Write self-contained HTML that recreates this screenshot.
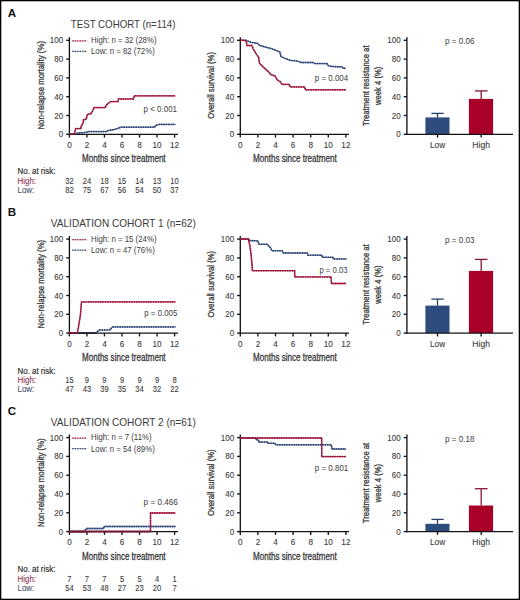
<!DOCTYPE html>
<html><head><meta charset="utf-8"><style>
html,body{margin:0;padding:0;background:#fff;}
body{width:520px;height:600px;overflow:hidden;}
svg{display:block;font-family:"Liberation Sans",sans-serif;}
</style></head><body>
<svg width="520" height="600" viewBox="0 0 520 600">
<rect x="0" y="0" width="520" height="600" fill="#fff"/>
<g>
<text x="7.80" y="17.00" font-size="11.6" fill="#111" textLength="8.38" lengthAdjust="spacingAndGlyphs" font-weight="bold" >A</text>
<text x="70.80" y="28.00" font-size="10.5" fill="#3a3a3a" textLength="104.70" lengthAdjust="spacingAndGlyphs" >TEST COHORT (n=114)</text>
<line x1="69.40" y1="37.20" x2="69.40" y2="134.98" stroke="#141414" stroke-width="1.35" />
<line x1="66.20" y1="134.30" x2="69.40" y2="134.30" stroke="#141414" stroke-width="1.35" />
<text x="58.75" y="137.30" font-size="8.6" fill="#3c3c3c" textLength="4.45" lengthAdjust="spacingAndGlyphs"  stroke="#3c3c3c" stroke-width="0.1">0</text>
<line x1="66.20" y1="115.50" x2="69.40" y2="115.50" stroke="#141414" stroke-width="1.35" />
<text x="54.30" y="118.50" font-size="8.6" fill="#3c3c3c" textLength="8.90" lengthAdjust="spacingAndGlyphs"  stroke="#3c3c3c" stroke-width="0.1">20</text>
<line x1="66.20" y1="96.70" x2="69.40" y2="96.70" stroke="#141414" stroke-width="1.35" />
<text x="54.30" y="99.70" font-size="8.6" fill="#3c3c3c" textLength="8.90" lengthAdjust="spacingAndGlyphs"  stroke="#3c3c3c" stroke-width="0.1">40</text>
<line x1="66.20" y1="77.90" x2="69.40" y2="77.90" stroke="#141414" stroke-width="1.35" />
<text x="54.30" y="80.90" font-size="8.6" fill="#3c3c3c" textLength="8.90" lengthAdjust="spacingAndGlyphs"  stroke="#3c3c3c" stroke-width="0.1">60</text>
<line x1="66.20" y1="59.10" x2="69.40" y2="59.10" stroke="#141414" stroke-width="1.35" />
<text x="54.30" y="62.10" font-size="8.6" fill="#3c3c3c" textLength="8.90" lengthAdjust="spacingAndGlyphs"  stroke="#3c3c3c" stroke-width="0.1">80</text>
<line x1="66.20" y1="40.30" x2="69.40" y2="40.30" stroke="#141414" stroke-width="1.35" />
<text x="49.86" y="43.30" font-size="8.6" fill="#3c3c3c" textLength="13.34" lengthAdjust="spacingAndGlyphs"  stroke="#3c3c3c" stroke-width="0.1">100</text>
<line x1="68.73" y1="134.30" x2="178.00" y2="134.30" stroke="#141414" stroke-width="1.35" />
<line x1="69.40" y1="134.30" x2="69.40" y2="137.60" stroke="#141414" stroke-width="1.35" />
<text x="67.13" y="147.70" font-size="8.6" fill="#3c3c3c" textLength="4.54" lengthAdjust="spacingAndGlyphs"  stroke="#3c3c3c" stroke-width="0.1">0</text>
<line x1="86.93" y1="134.30" x2="86.93" y2="137.60" stroke="#141414" stroke-width="1.35" />
<text x="84.66" y="147.70" font-size="8.6" fill="#3c3c3c" textLength="4.54" lengthAdjust="spacingAndGlyphs"  stroke="#3c3c3c" stroke-width="0.1">2</text>
<line x1="104.46" y1="134.30" x2="104.46" y2="137.60" stroke="#141414" stroke-width="1.35" />
<text x="102.19" y="147.70" font-size="8.6" fill="#3c3c3c" textLength="4.54" lengthAdjust="spacingAndGlyphs"  stroke="#3c3c3c" stroke-width="0.1">4</text>
<line x1="121.99" y1="134.30" x2="121.99" y2="137.60" stroke="#141414" stroke-width="1.35" />
<text x="119.72" y="147.70" font-size="8.6" fill="#3c3c3c" textLength="4.54" lengthAdjust="spacingAndGlyphs"  stroke="#3c3c3c" stroke-width="0.1">6</text>
<line x1="139.52" y1="134.30" x2="139.52" y2="137.60" stroke="#141414" stroke-width="1.35" />
<text x="137.25" y="147.70" font-size="8.6" fill="#3c3c3c" textLength="4.54" lengthAdjust="spacingAndGlyphs"  stroke="#3c3c3c" stroke-width="0.1">8</text>
<line x1="157.05" y1="134.30" x2="157.05" y2="137.60" stroke="#141414" stroke-width="1.35" />
<text x="152.51" y="147.70" font-size="8.6" fill="#3c3c3c" textLength="9.09" lengthAdjust="spacingAndGlyphs"  stroke="#3c3c3c" stroke-width="0.1">10</text>
<line x1="174.58" y1="134.30" x2="174.58" y2="137.60" stroke="#141414" stroke-width="1.35" />
<text x="170.04" y="147.70" font-size="8.6" fill="#3c3c3c" textLength="9.09" lengthAdjust="spacingAndGlyphs"  stroke="#3c3c3c" stroke-width="0.1">12</text>
<text x="82.00" y="161.90" font-size="10.0" fill="#383838" textLength="83.60" lengthAdjust="spacingAndGlyphs" stroke="#303030" stroke-width="0.26">Months since treatment</text>
<text transform="translate(43.60,85.30) rotate(-90)" x="-44.30" y="0" font-size="9.6" fill="#383838" textLength="88.60" lengthAdjust="spacingAndGlyphs"  stroke="#383838" stroke-width="0.3">Non-relapse mortality (%)</text>
<line x1="72.20" y1="40.90" x2="87.00" y2="40.90" stroke="#e2a8bb" stroke-width="1.2" />
<line x1="72.20" y1="40.90" x2="87.00" y2="40.90" stroke="#8a2446" stroke-width="1.3" stroke-dasharray="1.2 1.3"/>
<line x1="72.20" y1="51.40" x2="87.00" y2="51.40" stroke="#b4bed4" stroke-width="1.2" />
<line x1="72.20" y1="51.40" x2="87.00" y2="51.40" stroke="#33456e" stroke-width="1.3" stroke-dasharray="1.2 1.3"/>
<text x="91.00" y="42.70" font-size="8.2" fill="#3c3c3c" textLength="65.51" lengthAdjust="spacingAndGlyphs" >High: n = 32 (28%)</text>
<text x="91.00" y="53.80" font-size="8.2" fill="#3c3c3c" textLength="63.77" lengthAdjust="spacingAndGlyphs" >Low: n = 82 (72%)</text>
<polyline points="69.40,134.30 74.60,133.90 78.70,133.00 86.10,132.40 87.90,131.60 106.30,131.60 108.00,130.70 111.50,130.00 115.60,129.20 118.40,128.20 120.80,127.20 154.60,127.20 155.50,125.50 159.20,124.40 175.40,124.40" fill="none" stroke="#5a78ae" stroke-width="1.3" stroke-linejoin="miter" />
<polyline points="69.40,134.30 74.60,133.90 78.70,133.00 86.10,132.40 87.90,131.60 106.30,131.60 108.00,130.70 111.50,130.00 115.60,129.20 118.40,128.20 120.80,127.20 154.60,127.20 155.50,125.50 159.20,124.40 175.40,124.40" fill="none" stroke="#263862" stroke-width="1.5" stroke-linejoin="miter" stroke-dasharray="1.4 1.0"/>
<polyline points="69.40,134.30 74.20,134.30 74.40,133.60 75.70,128.60 80.80,128.50 81.10,126.40 83.20,122.80 83.50,119.80 86.20,119.20 87.40,114.40 90.70,113.80 92.80,110.80 94.00,107.60 105.20,107.60 106.40,105.00 110.40,101.60 117.90,101.60 118.50,99.00 133.30,98.90 134.40,95.80 175.40,95.80" fill="none" stroke="#c8244e" stroke-width="1.3" stroke-linejoin="miter" />
<polyline points="69.40,134.30 74.20,134.30 74.40,133.60 75.70,128.60 80.80,128.50 81.10,126.40 83.20,122.80 83.50,119.80 86.20,119.20 87.40,114.40 90.70,113.80 92.80,110.80 94.00,107.60 105.20,107.60 106.40,105.00 110.40,101.60 117.90,101.60 118.50,99.00 133.30,98.90 134.40,95.80 175.40,95.80" fill="none" stroke="#861636" stroke-width="1.5" stroke-linejoin="miter" stroke-dasharray="1.4 1.0"/>
<line x1="69.40" y1="134.30" x2="74.20" y2="134.30" stroke="#6a1a32" stroke-width="1.5" />
<text x="143.60" y="112.00" font-size="8.5" fill="#3c3c3c" textLength="33.40" lengthAdjust="spacingAndGlyphs" >p < 0.001</text>
<text x="17.50" y="174.40" font-size="8.2" fill="#2a2a2a" textLength="37.90" lengthAdjust="spacingAndGlyphs"  stroke="#2a2a2a" stroke-width="0.15">No. at risk:</text>
<text x="17.50" y="184.20" font-size="8.2" fill="#923252" textLength="18.57" lengthAdjust="spacingAndGlyphs"  stroke="#923252" stroke-width="0.1">High:</text>
<text x="17.50" y="193.30" font-size="8.2" fill="#47566f" textLength="16.80" lengthAdjust="spacingAndGlyphs"  stroke="#47566f" stroke-width="0.1">Low:</text>
<text x="65.19" y="184.00" font-size="8.6" fill="#3c3c3c" textLength="8.42" lengthAdjust="spacingAndGlyphs"  stroke="#3c3c3c" stroke-width="0.1">32</text>
<text x="65.19" y="193.20" font-size="8.6" fill="#3c3c3c" textLength="8.42" lengthAdjust="spacingAndGlyphs"  stroke="#3c3c3c" stroke-width="0.1">82</text>
<text x="82.72" y="184.00" font-size="8.6" fill="#3c3c3c" textLength="8.42" lengthAdjust="spacingAndGlyphs"  stroke="#3c3c3c" stroke-width="0.1">24</text>
<text x="82.72" y="193.20" font-size="8.6" fill="#3c3c3c" textLength="8.42" lengthAdjust="spacingAndGlyphs"  stroke="#3c3c3c" stroke-width="0.1">75</text>
<text x="100.25" y="184.00" font-size="8.6" fill="#3c3c3c" textLength="8.42" lengthAdjust="spacingAndGlyphs"  stroke="#3c3c3c" stroke-width="0.1">18</text>
<text x="100.25" y="193.20" font-size="8.6" fill="#3c3c3c" textLength="8.42" lengthAdjust="spacingAndGlyphs"  stroke="#3c3c3c" stroke-width="0.1">67</text>
<text x="117.78" y="184.00" font-size="8.6" fill="#3c3c3c" textLength="8.42" lengthAdjust="spacingAndGlyphs"  stroke="#3c3c3c" stroke-width="0.1">15</text>
<text x="117.78" y="193.20" font-size="8.6" fill="#3c3c3c" textLength="8.42" lengthAdjust="spacingAndGlyphs"  stroke="#3c3c3c" stroke-width="0.1">56</text>
<text x="135.31" y="184.00" font-size="8.6" fill="#3c3c3c" textLength="8.42" lengthAdjust="spacingAndGlyphs"  stroke="#3c3c3c" stroke-width="0.1">14</text>
<text x="135.31" y="193.20" font-size="8.6" fill="#3c3c3c" textLength="8.42" lengthAdjust="spacingAndGlyphs"  stroke="#3c3c3c" stroke-width="0.1">54</text>
<text x="152.84" y="184.00" font-size="8.6" fill="#3c3c3c" textLength="8.42" lengthAdjust="spacingAndGlyphs"  stroke="#3c3c3c" stroke-width="0.1">13</text>
<text x="152.84" y="193.20" font-size="8.6" fill="#3c3c3c" textLength="8.42" lengthAdjust="spacingAndGlyphs"  stroke="#3c3c3c" stroke-width="0.1">50</text>
<text x="170.37" y="184.00" font-size="8.6" fill="#3c3c3c" textLength="8.42" lengthAdjust="spacingAndGlyphs"  stroke="#3c3c3c" stroke-width="0.1">10</text>
<text x="170.37" y="193.20" font-size="8.6" fill="#3c3c3c" textLength="8.42" lengthAdjust="spacingAndGlyphs"  stroke="#3c3c3c" stroke-width="0.1">37</text>
<line x1="240.30" y1="37.20" x2="240.30" y2="134.98" stroke="#141414" stroke-width="1.35" />
<line x1="237.10" y1="134.30" x2="240.30" y2="134.30" stroke="#141414" stroke-width="1.35" />
<text x="229.65" y="137.30" font-size="8.6" fill="#3c3c3c" textLength="4.45" lengthAdjust="spacingAndGlyphs"  stroke="#3c3c3c" stroke-width="0.1">0</text>
<line x1="237.10" y1="115.50" x2="240.30" y2="115.50" stroke="#141414" stroke-width="1.35" />
<text x="225.20" y="118.50" font-size="8.6" fill="#3c3c3c" textLength="8.90" lengthAdjust="spacingAndGlyphs"  stroke="#3c3c3c" stroke-width="0.1">20</text>
<line x1="237.10" y1="96.70" x2="240.30" y2="96.70" stroke="#141414" stroke-width="1.35" />
<text x="225.20" y="99.70" font-size="8.6" fill="#3c3c3c" textLength="8.90" lengthAdjust="spacingAndGlyphs"  stroke="#3c3c3c" stroke-width="0.1">40</text>
<line x1="237.10" y1="77.90" x2="240.30" y2="77.90" stroke="#141414" stroke-width="1.35" />
<text x="225.20" y="80.90" font-size="8.6" fill="#3c3c3c" textLength="8.90" lengthAdjust="spacingAndGlyphs"  stroke="#3c3c3c" stroke-width="0.1">60</text>
<line x1="237.10" y1="59.10" x2="240.30" y2="59.10" stroke="#141414" stroke-width="1.35" />
<text x="225.20" y="62.10" font-size="8.6" fill="#3c3c3c" textLength="8.90" lengthAdjust="spacingAndGlyphs"  stroke="#3c3c3c" stroke-width="0.1">80</text>
<line x1="237.10" y1="40.30" x2="240.30" y2="40.30" stroke="#141414" stroke-width="1.35" />
<text x="220.76" y="43.30" font-size="8.6" fill="#3c3c3c" textLength="13.34" lengthAdjust="spacingAndGlyphs"  stroke="#3c3c3c" stroke-width="0.1">100</text>
<line x1="239.62" y1="134.30" x2="349.00" y2="134.30" stroke="#141414" stroke-width="1.35" />
<line x1="240.30" y1="134.30" x2="240.30" y2="137.60" stroke="#141414" stroke-width="1.35" />
<text x="238.03" y="147.70" font-size="8.6" fill="#3c3c3c" textLength="4.54" lengthAdjust="spacingAndGlyphs"  stroke="#3c3c3c" stroke-width="0.1">0</text>
<line x1="257.90" y1="134.30" x2="257.90" y2="137.60" stroke="#141414" stroke-width="1.35" />
<text x="255.63" y="147.70" font-size="8.6" fill="#3c3c3c" textLength="4.54" lengthAdjust="spacingAndGlyphs"  stroke="#3c3c3c" stroke-width="0.1">2</text>
<line x1="275.50" y1="134.30" x2="275.50" y2="137.60" stroke="#141414" stroke-width="1.35" />
<text x="273.23" y="147.70" font-size="8.6" fill="#3c3c3c" textLength="4.54" lengthAdjust="spacingAndGlyphs"  stroke="#3c3c3c" stroke-width="0.1">4</text>
<line x1="293.10" y1="134.30" x2="293.10" y2="137.60" stroke="#141414" stroke-width="1.35" />
<text x="290.83" y="147.70" font-size="8.6" fill="#3c3c3c" textLength="4.54" lengthAdjust="spacingAndGlyphs"  stroke="#3c3c3c" stroke-width="0.1">6</text>
<line x1="310.70" y1="134.30" x2="310.70" y2="137.60" stroke="#141414" stroke-width="1.35" />
<text x="308.43" y="147.70" font-size="8.6" fill="#3c3c3c" textLength="4.54" lengthAdjust="spacingAndGlyphs"  stroke="#3c3c3c" stroke-width="0.1">8</text>
<line x1="328.30" y1="134.30" x2="328.30" y2="137.60" stroke="#141414" stroke-width="1.35" />
<text x="323.76" y="147.70" font-size="8.6" fill="#3c3c3c" textLength="9.09" lengthAdjust="spacingAndGlyphs"  stroke="#3c3c3c" stroke-width="0.1">10</text>
<line x1="345.90" y1="134.30" x2="345.90" y2="137.60" stroke="#141414" stroke-width="1.35" />
<text x="341.36" y="147.70" font-size="8.6" fill="#3c3c3c" textLength="9.09" lengthAdjust="spacingAndGlyphs"  stroke="#3c3c3c" stroke-width="0.1">12</text>
<text x="253.00" y="161.90" font-size="10.0" fill="#383838" textLength="83.70" lengthAdjust="spacingAndGlyphs" stroke="#303030" stroke-width="0.26">Months since treatment</text>
<text transform="translate(214.30,85.40) rotate(-90)" x="-33.35" y="0" font-size="9.8" fill="#383838" textLength="66.70" lengthAdjust="spacingAndGlyphs"  stroke="#383838" stroke-width="0.3">Overall survival (%)</text>
<polyline points="240.30,40.30 246.40,40.30 247.50,40.90 251.00,42.30 257.90,43.50 259.60,45.50 264.80,46.90 270.60,48.40 275.20,50.10 279.80,51.90 281.00,56.50 284.40,58.20 290.20,60.30 295.80,60.80 300.40,61.90 301.00,62.50 313.00,62.50 314.80,63.60 326.90,63.60 328.00,65.40 331.50,66.50 341.90,66.80 343.00,68.30 346.00,68.30" fill="none" stroke="#5a78ae" stroke-width="1.3" stroke-linejoin="miter" />
<polyline points="240.30,40.30 246.40,40.30 247.50,40.90 251.00,42.30 257.90,43.50 259.60,45.50 264.80,46.90 270.60,48.40 275.20,50.10 279.80,51.90 281.00,56.50 284.40,58.20 290.20,60.30 295.80,60.80 300.40,61.90 301.00,62.50 313.00,62.50 314.80,63.60 326.90,63.60 328.00,65.40 331.50,66.50 341.90,66.80 343.00,68.30 346.00,68.30" fill="none" stroke="#263862" stroke-width="1.5" stroke-linejoin="miter" stroke-dasharray="1.4 1.0"/>
<polyline points="240.30,40.30 244.70,40.30 246.40,42.10 247.00,45.50 251.60,45.50 253.30,49.00 256.80,54.80 258.50,57.10 259.60,63.40 263.70,67.40 268.30,71.50 270.60,74.40 275.20,76.10 277.00,79.60 280.40,81.90 282.10,84.40 289.00,84.40 290.20,86.90 304.40,86.90 305.60,89.80 346.00,89.80" fill="none" stroke="#c8244e" stroke-width="1.3" stroke-linejoin="miter" />
<polyline points="240.30,40.30 244.70,40.30 246.40,42.10 247.00,45.50 251.60,45.50 253.30,49.00 256.80,54.80 258.50,57.10 259.60,63.40 263.70,67.40 268.30,71.50 270.60,74.40 275.20,76.10 277.00,79.60 280.40,81.90 282.10,84.40 289.00,84.40 290.20,86.90 304.40,86.90 305.60,89.80 346.00,89.80" fill="none" stroke="#861636" stroke-width="1.5" stroke-linejoin="miter" stroke-dasharray="1.4 1.0"/>
<text x="314.80" y="81.00" font-size="8.5" fill="#3c3c3c" textLength="33.40" lengthAdjust="spacingAndGlyphs" >p = 0.004</text>
<rect x="425.4" y="117.40" width="24.1" height="16.90" fill="#2e4b7d"/>
<rect x="468.9" y="98.90" width="24.2" height="35.40" fill="#a80029"/>
<line x1="437.50" y1="113.40" x2="437.50" y2="117.40" stroke="#253f6e" stroke-width="1.3" />
<line x1="431.40" y1="113.40" x2="443.70" y2="113.40" stroke="#253f6e" stroke-width="1.3" />
<line x1="481.20" y1="90.90" x2="481.20" y2="98.90" stroke="#8a1535" stroke-width="1.3" />
<line x1="474.90" y1="90.90" x2="487.60" y2="90.90" stroke="#8a1535" stroke-width="1.3" />
<line x1="406.90" y1="37.20" x2="406.90" y2="134.98" stroke="#141414" stroke-width="1.35" />
<line x1="403.70" y1="134.30" x2="406.90" y2="134.30" stroke="#141414" stroke-width="1.35" />
<text x="396.25" y="137.30" font-size="8.6" fill="#3c3c3c" textLength="4.45" lengthAdjust="spacingAndGlyphs"  stroke="#3c3c3c" stroke-width="0.1">0</text>
<line x1="403.70" y1="115.50" x2="406.90" y2="115.50" stroke="#141414" stroke-width="1.35" />
<text x="391.80" y="118.50" font-size="8.6" fill="#3c3c3c" textLength="8.90" lengthAdjust="spacingAndGlyphs"  stroke="#3c3c3c" stroke-width="0.1">20</text>
<line x1="403.70" y1="96.70" x2="406.90" y2="96.70" stroke="#141414" stroke-width="1.35" />
<text x="391.80" y="99.70" font-size="8.6" fill="#3c3c3c" textLength="8.90" lengthAdjust="spacingAndGlyphs"  stroke="#3c3c3c" stroke-width="0.1">40</text>
<line x1="403.70" y1="77.90" x2="406.90" y2="77.90" stroke="#141414" stroke-width="1.35" />
<text x="391.80" y="80.90" font-size="8.6" fill="#3c3c3c" textLength="8.90" lengthAdjust="spacingAndGlyphs"  stroke="#3c3c3c" stroke-width="0.1">60</text>
<line x1="403.70" y1="59.10" x2="406.90" y2="59.10" stroke="#141414" stroke-width="1.35" />
<text x="391.80" y="62.10" font-size="8.6" fill="#3c3c3c" textLength="8.90" lengthAdjust="spacingAndGlyphs"  stroke="#3c3c3c" stroke-width="0.1">80</text>
<line x1="403.70" y1="40.30" x2="406.90" y2="40.30" stroke="#141414" stroke-width="1.35" />
<text x="387.36" y="43.30" font-size="8.6" fill="#3c3c3c" textLength="13.34" lengthAdjust="spacingAndGlyphs"  stroke="#3c3c3c" stroke-width="0.1">100</text>
<line x1="406.22" y1="134.30" x2="513.00" y2="134.30" stroke="#141414" stroke-width="1.35" />
<line x1="437.50" y1="134.30" x2="437.50" y2="137.60" stroke="#141414" stroke-width="1.35" />
<line x1="481.20" y1="134.30" x2="481.20" y2="137.60" stroke="#141414" stroke-width="1.35" />
<text x="430.03" y="147.70" font-size="8.6" fill="#3c3c3c" textLength="15.14" lengthAdjust="spacingAndGlyphs"  stroke="#3c3c3c" stroke-width="0.1">Low</text>
<text x="472.36" y="147.70" font-size="8.6" fill="#3c3c3c" textLength="17.69" lengthAdjust="spacingAndGlyphs"  stroke="#3c3c3c" stroke-width="0.1">High</text>
<text transform="translate(368.70,85.70) rotate(-90)" x="-40.20" y="0" font-size="9.8" fill="#383838" textLength="80.40" lengthAdjust="spacingAndGlyphs"  stroke="#383838" stroke-width="0.3">Treatment resistance at</text>
<text transform="translate(381.00,85.80) rotate(-90)" x="-19.15" y="0" font-size="9.6" fill="#383838" textLength="38.30" lengthAdjust="spacingAndGlyphs"  stroke="#383838" stroke-width="0.3">week 4 (%)</text>
<text x="445.00" y="43.60" font-size="8.5" fill="#3c3c3c" textLength="29.40" lengthAdjust="spacingAndGlyphs" >p = 0.06</text>
</g>
<g>
<text x="7.80" y="216.30" font-size="11.6" fill="#111" textLength="8.38" lengthAdjust="spacingAndGlyphs" font-weight="bold" >B</text>
<text x="50.80" y="226.50" font-size="10.5" fill="#3a3a3a" textLength="145.00" lengthAdjust="spacingAndGlyphs" >VALIDATION COHORT 1 (n=62)</text>
<line x1="69.40" y1="236.00" x2="69.40" y2="333.78" stroke="#141414" stroke-width="1.35" />
<line x1="66.20" y1="333.10" x2="69.40" y2="333.10" stroke="#141414" stroke-width="1.35" />
<text x="58.75" y="336.10" font-size="8.6" fill="#3c3c3c" textLength="4.45" lengthAdjust="spacingAndGlyphs"  stroke="#3c3c3c" stroke-width="0.1">0</text>
<line x1="66.20" y1="314.30" x2="69.40" y2="314.30" stroke="#141414" stroke-width="1.35" />
<text x="54.30" y="317.30" font-size="8.6" fill="#3c3c3c" textLength="8.90" lengthAdjust="spacingAndGlyphs"  stroke="#3c3c3c" stroke-width="0.1">20</text>
<line x1="66.20" y1="295.50" x2="69.40" y2="295.50" stroke="#141414" stroke-width="1.35" />
<text x="54.30" y="298.50" font-size="8.6" fill="#3c3c3c" textLength="8.90" lengthAdjust="spacingAndGlyphs"  stroke="#3c3c3c" stroke-width="0.1">40</text>
<line x1="66.20" y1="276.70" x2="69.40" y2="276.70" stroke="#141414" stroke-width="1.35" />
<text x="54.30" y="279.70" font-size="8.6" fill="#3c3c3c" textLength="8.90" lengthAdjust="spacingAndGlyphs"  stroke="#3c3c3c" stroke-width="0.1">60</text>
<line x1="66.20" y1="257.90" x2="69.40" y2="257.90" stroke="#141414" stroke-width="1.35" />
<text x="54.30" y="260.90" font-size="8.6" fill="#3c3c3c" textLength="8.90" lengthAdjust="spacingAndGlyphs"  stroke="#3c3c3c" stroke-width="0.1">80</text>
<line x1="66.20" y1="239.10" x2="69.40" y2="239.10" stroke="#141414" stroke-width="1.35" />
<text x="49.86" y="242.10" font-size="8.6" fill="#3c3c3c" textLength="13.34" lengthAdjust="spacingAndGlyphs"  stroke="#3c3c3c" stroke-width="0.1">100</text>
<line x1="68.73" y1="333.10" x2="178.00" y2="333.10" stroke="#141414" stroke-width="1.35" />
<line x1="69.40" y1="333.10" x2="69.40" y2="336.40" stroke="#141414" stroke-width="1.35" />
<text x="67.13" y="346.50" font-size="8.6" fill="#3c3c3c" textLength="4.54" lengthAdjust="spacingAndGlyphs"  stroke="#3c3c3c" stroke-width="0.1">0</text>
<line x1="86.93" y1="333.10" x2="86.93" y2="336.40" stroke="#141414" stroke-width="1.35" />
<text x="84.66" y="346.50" font-size="8.6" fill="#3c3c3c" textLength="4.54" lengthAdjust="spacingAndGlyphs"  stroke="#3c3c3c" stroke-width="0.1">2</text>
<line x1="104.46" y1="333.10" x2="104.46" y2="336.40" stroke="#141414" stroke-width="1.35" />
<text x="102.19" y="346.50" font-size="8.6" fill="#3c3c3c" textLength="4.54" lengthAdjust="spacingAndGlyphs"  stroke="#3c3c3c" stroke-width="0.1">4</text>
<line x1="121.99" y1="333.10" x2="121.99" y2="336.40" stroke="#141414" stroke-width="1.35" />
<text x="119.72" y="346.50" font-size="8.6" fill="#3c3c3c" textLength="4.54" lengthAdjust="spacingAndGlyphs"  stroke="#3c3c3c" stroke-width="0.1">6</text>
<line x1="139.52" y1="333.10" x2="139.52" y2="336.40" stroke="#141414" stroke-width="1.35" />
<text x="137.25" y="346.50" font-size="8.6" fill="#3c3c3c" textLength="4.54" lengthAdjust="spacingAndGlyphs"  stroke="#3c3c3c" stroke-width="0.1">8</text>
<line x1="157.05" y1="333.10" x2="157.05" y2="336.40" stroke="#141414" stroke-width="1.35" />
<text x="152.51" y="346.50" font-size="8.6" fill="#3c3c3c" textLength="9.09" lengthAdjust="spacingAndGlyphs"  stroke="#3c3c3c" stroke-width="0.1">10</text>
<line x1="174.58" y1="333.10" x2="174.58" y2="336.40" stroke="#141414" stroke-width="1.35" />
<text x="170.04" y="346.50" font-size="8.6" fill="#3c3c3c" textLength="9.09" lengthAdjust="spacingAndGlyphs"  stroke="#3c3c3c" stroke-width="0.1">12</text>
<text x="82.00" y="360.70" font-size="10.0" fill="#383838" textLength="83.60" lengthAdjust="spacingAndGlyphs" stroke="#303030" stroke-width="0.26">Months since treatment</text>
<text transform="translate(43.60,284.10) rotate(-90)" x="-44.30" y="0" font-size="9.6" fill="#383838" textLength="88.60" lengthAdjust="spacingAndGlyphs"  stroke="#383838" stroke-width="0.3">Non-relapse mortality (%)</text>
<line x1="72.20" y1="239.70" x2="87.00" y2="239.70" stroke="#e2a8bb" stroke-width="1.2" />
<line x1="72.20" y1="239.70" x2="87.00" y2="239.70" stroke="#8a2446" stroke-width="1.3" stroke-dasharray="1.2 1.3"/>
<line x1="72.20" y1="250.20" x2="87.00" y2="250.20" stroke="#b4bed4" stroke-width="1.2" />
<line x1="72.20" y1="250.20" x2="87.00" y2="250.20" stroke="#33456e" stroke-width="1.3" stroke-dasharray="1.2 1.3"/>
<text x="91.00" y="241.70" font-size="8.2" fill="#3c3c3c" textLength="65.51" lengthAdjust="spacingAndGlyphs" >High: n = 15 (24%)</text>
<text x="91.00" y="252.80" font-size="8.2" fill="#3c3c3c" textLength="63.77" lengthAdjust="spacingAndGlyphs" >Low: n = 47 (76%)</text>
<polyline points="69.40,333.00 96.50,333.00 96.80,332.00 99.20,330.10 110.20,329.80 111.70,327.70 113.10,326.90 175.40,326.90" fill="none" stroke="#5a78ae" stroke-width="1.3" stroke-linejoin="miter" />
<polyline points="69.40,333.00 96.50,333.00 96.80,332.00 99.20,330.10 110.20,329.80 111.70,327.70 113.10,326.90 175.40,326.90" fill="none" stroke="#263862" stroke-width="1.5" stroke-linejoin="miter" stroke-dasharray="1.4 1.0"/>
<line x1="69.40" y1="333.10" x2="96.50" y2="333.10" stroke="#141414" stroke-width="1.35" />
<polyline points="69.40,333.00 77.30,333.00 78.50,326.70 80.40,315.20 81.40,302.70 81.90,301.90 175.40,301.90" fill="none" stroke="#c8244e" stroke-width="1.3" stroke-linejoin="miter" />
<polyline points="69.40,333.00 77.30,333.00 78.50,326.70 80.40,315.20 81.40,302.70 81.90,301.90 175.40,301.90" fill="none" stroke="#861636" stroke-width="1.5" stroke-linejoin="miter" stroke-dasharray="1.4 1.0"/>
<line x1="69.40" y1="333.10" x2="77.30" y2="333.10" stroke="#6a1a32" stroke-width="1.5" />
<text x="144.30" y="316.40" font-size="8.5" fill="#3c3c3c" textLength="33.00" lengthAdjust="spacingAndGlyphs" >p = 0.005</text>
<text x="17.50" y="373.50" font-size="8.2" fill="#2a2a2a" textLength="37.90" lengthAdjust="spacingAndGlyphs"  stroke="#2a2a2a" stroke-width="0.15">No. at risk:</text>
<text x="17.50" y="383.30" font-size="8.2" fill="#923252" textLength="18.57" lengthAdjust="spacingAndGlyphs"  stroke="#923252" stroke-width="0.1">High:</text>
<text x="17.50" y="392.40" font-size="8.2" fill="#47566f" textLength="16.80" lengthAdjust="spacingAndGlyphs"  stroke="#47566f" stroke-width="0.1">Low:</text>
<text x="65.19" y="383.10" font-size="8.6" fill="#3c3c3c" textLength="8.42" lengthAdjust="spacingAndGlyphs"  stroke="#3c3c3c" stroke-width="0.1">15</text>
<text x="65.19" y="392.30" font-size="8.6" fill="#3c3c3c" textLength="8.42" lengthAdjust="spacingAndGlyphs"  stroke="#3c3c3c" stroke-width="0.1">47</text>
<text x="84.83" y="383.10" font-size="8.6" fill="#3c3c3c" textLength="4.21" lengthAdjust="spacingAndGlyphs"  stroke="#3c3c3c" stroke-width="0.1">9</text>
<text x="82.72" y="392.30" font-size="8.6" fill="#3c3c3c" textLength="8.42" lengthAdjust="spacingAndGlyphs"  stroke="#3c3c3c" stroke-width="0.1">43</text>
<text x="102.36" y="383.10" font-size="8.6" fill="#3c3c3c" textLength="4.21" lengthAdjust="spacingAndGlyphs"  stroke="#3c3c3c" stroke-width="0.1">9</text>
<text x="100.25" y="392.30" font-size="8.6" fill="#3c3c3c" textLength="8.42" lengthAdjust="spacingAndGlyphs"  stroke="#3c3c3c" stroke-width="0.1">39</text>
<text x="119.89" y="383.10" font-size="8.6" fill="#3c3c3c" textLength="4.21" lengthAdjust="spacingAndGlyphs"  stroke="#3c3c3c" stroke-width="0.1">9</text>
<text x="117.78" y="392.30" font-size="8.6" fill="#3c3c3c" textLength="8.42" lengthAdjust="spacingAndGlyphs"  stroke="#3c3c3c" stroke-width="0.1">35</text>
<text x="137.42" y="383.10" font-size="8.6" fill="#3c3c3c" textLength="4.21" lengthAdjust="spacingAndGlyphs"  stroke="#3c3c3c" stroke-width="0.1">9</text>
<text x="135.31" y="392.30" font-size="8.6" fill="#3c3c3c" textLength="8.42" lengthAdjust="spacingAndGlyphs"  stroke="#3c3c3c" stroke-width="0.1">34</text>
<text x="154.95" y="383.10" font-size="8.6" fill="#3c3c3c" textLength="4.21" lengthAdjust="spacingAndGlyphs"  stroke="#3c3c3c" stroke-width="0.1">9</text>
<text x="152.84" y="392.30" font-size="8.6" fill="#3c3c3c" textLength="8.42" lengthAdjust="spacingAndGlyphs"  stroke="#3c3c3c" stroke-width="0.1">32</text>
<text x="172.48" y="383.10" font-size="8.6" fill="#3c3c3c" textLength="4.21" lengthAdjust="spacingAndGlyphs"  stroke="#3c3c3c" stroke-width="0.1">8</text>
<text x="170.37" y="392.30" font-size="8.6" fill="#3c3c3c" textLength="8.42" lengthAdjust="spacingAndGlyphs"  stroke="#3c3c3c" stroke-width="0.1">22</text>
<line x1="240.30" y1="236.00" x2="240.30" y2="333.78" stroke="#141414" stroke-width="1.35" />
<line x1="237.10" y1="333.10" x2="240.30" y2="333.10" stroke="#141414" stroke-width="1.35" />
<text x="229.65" y="336.10" font-size="8.6" fill="#3c3c3c" textLength="4.45" lengthAdjust="spacingAndGlyphs"  stroke="#3c3c3c" stroke-width="0.1">0</text>
<line x1="237.10" y1="314.30" x2="240.30" y2="314.30" stroke="#141414" stroke-width="1.35" />
<text x="225.20" y="317.30" font-size="8.6" fill="#3c3c3c" textLength="8.90" lengthAdjust="spacingAndGlyphs"  stroke="#3c3c3c" stroke-width="0.1">20</text>
<line x1="237.10" y1="295.50" x2="240.30" y2="295.50" stroke="#141414" stroke-width="1.35" />
<text x="225.20" y="298.50" font-size="8.6" fill="#3c3c3c" textLength="8.90" lengthAdjust="spacingAndGlyphs"  stroke="#3c3c3c" stroke-width="0.1">40</text>
<line x1="237.10" y1="276.70" x2="240.30" y2="276.70" stroke="#141414" stroke-width="1.35" />
<text x="225.20" y="279.70" font-size="8.6" fill="#3c3c3c" textLength="8.90" lengthAdjust="spacingAndGlyphs"  stroke="#3c3c3c" stroke-width="0.1">60</text>
<line x1="237.10" y1="257.90" x2="240.30" y2="257.90" stroke="#141414" stroke-width="1.35" />
<text x="225.20" y="260.90" font-size="8.6" fill="#3c3c3c" textLength="8.90" lengthAdjust="spacingAndGlyphs"  stroke="#3c3c3c" stroke-width="0.1">80</text>
<line x1="237.10" y1="239.10" x2="240.30" y2="239.10" stroke="#141414" stroke-width="1.35" />
<text x="220.76" y="242.10" font-size="8.6" fill="#3c3c3c" textLength="13.34" lengthAdjust="spacingAndGlyphs"  stroke="#3c3c3c" stroke-width="0.1">100</text>
<line x1="239.62" y1="333.10" x2="349.00" y2="333.10" stroke="#141414" stroke-width="1.35" />
<line x1="240.30" y1="333.10" x2="240.30" y2="336.40" stroke="#141414" stroke-width="1.35" />
<text x="238.03" y="346.50" font-size="8.6" fill="#3c3c3c" textLength="4.54" lengthAdjust="spacingAndGlyphs"  stroke="#3c3c3c" stroke-width="0.1">0</text>
<line x1="257.90" y1="333.10" x2="257.90" y2="336.40" stroke="#141414" stroke-width="1.35" />
<text x="255.63" y="346.50" font-size="8.6" fill="#3c3c3c" textLength="4.54" lengthAdjust="spacingAndGlyphs"  stroke="#3c3c3c" stroke-width="0.1">2</text>
<line x1="275.50" y1="333.10" x2="275.50" y2="336.40" stroke="#141414" stroke-width="1.35" />
<text x="273.23" y="346.50" font-size="8.6" fill="#3c3c3c" textLength="4.54" lengthAdjust="spacingAndGlyphs"  stroke="#3c3c3c" stroke-width="0.1">4</text>
<line x1="293.10" y1="333.10" x2="293.10" y2="336.40" stroke="#141414" stroke-width="1.35" />
<text x="290.83" y="346.50" font-size="8.6" fill="#3c3c3c" textLength="4.54" lengthAdjust="spacingAndGlyphs"  stroke="#3c3c3c" stroke-width="0.1">6</text>
<line x1="310.70" y1="333.10" x2="310.70" y2="336.40" stroke="#141414" stroke-width="1.35" />
<text x="308.43" y="346.50" font-size="8.6" fill="#3c3c3c" textLength="4.54" lengthAdjust="spacingAndGlyphs"  stroke="#3c3c3c" stroke-width="0.1">8</text>
<line x1="328.30" y1="333.10" x2="328.30" y2="336.40" stroke="#141414" stroke-width="1.35" />
<text x="323.76" y="346.50" font-size="8.6" fill="#3c3c3c" textLength="9.09" lengthAdjust="spacingAndGlyphs"  stroke="#3c3c3c" stroke-width="0.1">10</text>
<line x1="345.90" y1="333.10" x2="345.90" y2="336.40" stroke="#141414" stroke-width="1.35" />
<text x="341.36" y="346.50" font-size="8.6" fill="#3c3c3c" textLength="9.09" lengthAdjust="spacingAndGlyphs"  stroke="#3c3c3c" stroke-width="0.1">12</text>
<text x="253.00" y="360.70" font-size="10.0" fill="#383838" textLength="83.70" lengthAdjust="spacingAndGlyphs" stroke="#303030" stroke-width="0.26">Months since treatment</text>
<text transform="translate(214.30,284.20) rotate(-90)" x="-33.35" y="0" font-size="9.8" fill="#383838" textLength="66.70" lengthAdjust="spacingAndGlyphs"  stroke="#383838" stroke-width="0.3">Overall survival (%)</text>
<polyline points="240.30,239.00 248.70,239.00 249.80,240.50 257.90,240.90 259.00,244.30 267.10,244.30 270.60,247.80 271.80,250.70 282.10,250.70 283.30,253.00 307.30,253.00 308.00,255.20 321.70,255.20 322.50,257.30 332.70,257.30 333.50,258.90 346.50,258.90" fill="none" stroke="#5a78ae" stroke-width="1.3" stroke-linejoin="miter" />
<polyline points="240.30,239.00 248.70,239.00 249.80,240.50 257.90,240.90 259.00,244.30 267.10,244.30 270.60,247.80 271.80,250.70 282.10,250.70 283.30,253.00 307.30,253.00 308.00,255.20 321.70,255.20 322.50,257.30 332.70,257.30 333.50,258.90 346.50,258.90" fill="none" stroke="#263862" stroke-width="1.5" stroke-linejoin="miter" stroke-dasharray="1.4 1.0"/>
<polyline points="240.30,239.00 248.10,239.00 249.80,244.90 251.00,254.10 251.90,263.30 252.40,270.70 294.60,270.70 294.80,276.90 331.00,276.90 331.50,283.50 346.00,283.50" fill="none" stroke="#c8244e" stroke-width="1.3" stroke-linejoin="miter" />
<polyline points="240.30,239.00 248.10,239.00 249.80,244.90 251.00,254.10 251.90,263.30 252.40,270.70 294.60,270.70 294.80,276.90 331.00,276.90 331.50,283.50 346.00,283.50" fill="none" stroke="#861636" stroke-width="1.5" stroke-linejoin="miter" stroke-dasharray="1.4 1.0"/>
<text x="319.40" y="273.10" font-size="8.5" fill="#3c3c3c" textLength="28.30" lengthAdjust="spacingAndGlyphs" >p = 0.03</text>
<rect x="425.4" y="305.60" width="24.1" height="27.50" fill="#2e4b7d"/>
<rect x="468.9" y="270.90" width="24.2" height="62.20" fill="#a80029"/>
<line x1="437.50" y1="299.10" x2="437.50" y2="305.60" stroke="#253f6e" stroke-width="1.3" />
<line x1="431.40" y1="299.10" x2="443.70" y2="299.10" stroke="#253f6e" stroke-width="1.3" />
<line x1="481.20" y1="259.40" x2="481.20" y2="270.90" stroke="#8a1535" stroke-width="1.3" />
<line x1="474.90" y1="259.40" x2="487.60" y2="259.40" stroke="#8a1535" stroke-width="1.3" />
<line x1="406.90" y1="236.00" x2="406.90" y2="333.78" stroke="#141414" stroke-width="1.35" />
<line x1="403.70" y1="333.10" x2="406.90" y2="333.10" stroke="#141414" stroke-width="1.35" />
<text x="396.25" y="336.10" font-size="8.6" fill="#3c3c3c" textLength="4.45" lengthAdjust="spacingAndGlyphs"  stroke="#3c3c3c" stroke-width="0.1">0</text>
<line x1="403.70" y1="314.30" x2="406.90" y2="314.30" stroke="#141414" stroke-width="1.35" />
<text x="391.80" y="317.30" font-size="8.6" fill="#3c3c3c" textLength="8.90" lengthAdjust="spacingAndGlyphs"  stroke="#3c3c3c" stroke-width="0.1">20</text>
<line x1="403.70" y1="295.50" x2="406.90" y2="295.50" stroke="#141414" stroke-width="1.35" />
<text x="391.80" y="298.50" font-size="8.6" fill="#3c3c3c" textLength="8.90" lengthAdjust="spacingAndGlyphs"  stroke="#3c3c3c" stroke-width="0.1">40</text>
<line x1="403.70" y1="276.70" x2="406.90" y2="276.70" stroke="#141414" stroke-width="1.35" />
<text x="391.80" y="279.70" font-size="8.6" fill="#3c3c3c" textLength="8.90" lengthAdjust="spacingAndGlyphs"  stroke="#3c3c3c" stroke-width="0.1">60</text>
<line x1="403.70" y1="257.90" x2="406.90" y2="257.90" stroke="#141414" stroke-width="1.35" />
<text x="391.80" y="260.90" font-size="8.6" fill="#3c3c3c" textLength="8.90" lengthAdjust="spacingAndGlyphs"  stroke="#3c3c3c" stroke-width="0.1">80</text>
<line x1="403.70" y1="239.10" x2="406.90" y2="239.10" stroke="#141414" stroke-width="1.35" />
<text x="387.36" y="242.10" font-size="8.6" fill="#3c3c3c" textLength="13.34" lengthAdjust="spacingAndGlyphs"  stroke="#3c3c3c" stroke-width="0.1">100</text>
<line x1="406.22" y1="333.10" x2="513.00" y2="333.10" stroke="#141414" stroke-width="1.35" />
<line x1="437.50" y1="333.10" x2="437.50" y2="336.40" stroke="#141414" stroke-width="1.35" />
<line x1="481.20" y1="333.10" x2="481.20" y2="336.40" stroke="#141414" stroke-width="1.35" />
<text x="430.03" y="346.50" font-size="8.6" fill="#3c3c3c" textLength="15.14" lengthAdjust="spacingAndGlyphs"  stroke="#3c3c3c" stroke-width="0.1">Low</text>
<text x="472.36" y="346.50" font-size="8.6" fill="#3c3c3c" textLength="17.69" lengthAdjust="spacingAndGlyphs"  stroke="#3c3c3c" stroke-width="0.1">High</text>
<text transform="translate(368.70,284.50) rotate(-90)" x="-40.20" y="0" font-size="9.8" fill="#383838" textLength="80.40" lengthAdjust="spacingAndGlyphs"  stroke="#383838" stroke-width="0.3">Treatment resistance at</text>
<text transform="translate(381.00,284.60) rotate(-90)" x="-19.15" y="0" font-size="9.6" fill="#383838" textLength="38.30" lengthAdjust="spacingAndGlyphs"  stroke="#383838" stroke-width="0.3">week 4 (%)</text>
<text x="445.00" y="243.40" font-size="8.5" fill="#3c3c3c" textLength="29.40" lengthAdjust="spacingAndGlyphs" >p = 0.03</text>
</g>
<g>
<text x="7.80" y="415.20" font-size="11.6" fill="#111" textLength="8.38" lengthAdjust="spacingAndGlyphs" font-weight="bold" >C</text>
<text x="50.80" y="425.60" font-size="10.5" fill="#3a3a3a" textLength="145.00" lengthAdjust="spacingAndGlyphs" >VALIDATION COHORT 2 (n=61)</text>
<line x1="69.40" y1="434.50" x2="69.40" y2="532.27" stroke="#141414" stroke-width="1.35" />
<line x1="66.20" y1="531.60" x2="69.40" y2="531.60" stroke="#141414" stroke-width="1.35" />
<text x="58.75" y="534.60" font-size="8.6" fill="#3c3c3c" textLength="4.45" lengthAdjust="spacingAndGlyphs"  stroke="#3c3c3c" stroke-width="0.1">0</text>
<line x1="66.20" y1="512.80" x2="69.40" y2="512.80" stroke="#141414" stroke-width="1.35" />
<text x="54.30" y="515.80" font-size="8.6" fill="#3c3c3c" textLength="8.90" lengthAdjust="spacingAndGlyphs"  stroke="#3c3c3c" stroke-width="0.1">20</text>
<line x1="66.20" y1="494.00" x2="69.40" y2="494.00" stroke="#141414" stroke-width="1.35" />
<text x="54.30" y="497.00" font-size="8.6" fill="#3c3c3c" textLength="8.90" lengthAdjust="spacingAndGlyphs"  stroke="#3c3c3c" stroke-width="0.1">40</text>
<line x1="66.20" y1="475.20" x2="69.40" y2="475.20" stroke="#141414" stroke-width="1.35" />
<text x="54.30" y="478.20" font-size="8.6" fill="#3c3c3c" textLength="8.90" lengthAdjust="spacingAndGlyphs"  stroke="#3c3c3c" stroke-width="0.1">60</text>
<line x1="66.20" y1="456.40" x2="69.40" y2="456.40" stroke="#141414" stroke-width="1.35" />
<text x="54.30" y="459.40" font-size="8.6" fill="#3c3c3c" textLength="8.90" lengthAdjust="spacingAndGlyphs"  stroke="#3c3c3c" stroke-width="0.1">80</text>
<line x1="66.20" y1="437.60" x2="69.40" y2="437.60" stroke="#141414" stroke-width="1.35" />
<text x="49.86" y="440.60" font-size="8.6" fill="#3c3c3c" textLength="13.34" lengthAdjust="spacingAndGlyphs"  stroke="#3c3c3c" stroke-width="0.1">100</text>
<line x1="68.73" y1="531.60" x2="178.00" y2="531.60" stroke="#141414" stroke-width="1.35" />
<line x1="69.40" y1="531.60" x2="69.40" y2="534.90" stroke="#141414" stroke-width="1.35" />
<text x="67.13" y="545.00" font-size="8.6" fill="#3c3c3c" textLength="4.54" lengthAdjust="spacingAndGlyphs"  stroke="#3c3c3c" stroke-width="0.1">0</text>
<line x1="86.93" y1="531.60" x2="86.93" y2="534.90" stroke="#141414" stroke-width="1.35" />
<text x="84.66" y="545.00" font-size="8.6" fill="#3c3c3c" textLength="4.54" lengthAdjust="spacingAndGlyphs"  stroke="#3c3c3c" stroke-width="0.1">2</text>
<line x1="104.46" y1="531.60" x2="104.46" y2="534.90" stroke="#141414" stroke-width="1.35" />
<text x="102.19" y="545.00" font-size="8.6" fill="#3c3c3c" textLength="4.54" lengthAdjust="spacingAndGlyphs"  stroke="#3c3c3c" stroke-width="0.1">4</text>
<line x1="121.99" y1="531.60" x2="121.99" y2="534.90" stroke="#141414" stroke-width="1.35" />
<text x="119.72" y="545.00" font-size="8.6" fill="#3c3c3c" textLength="4.54" lengthAdjust="spacingAndGlyphs"  stroke="#3c3c3c" stroke-width="0.1">6</text>
<line x1="139.52" y1="531.60" x2="139.52" y2="534.90" stroke="#141414" stroke-width="1.35" />
<text x="137.25" y="545.00" font-size="8.6" fill="#3c3c3c" textLength="4.54" lengthAdjust="spacingAndGlyphs"  stroke="#3c3c3c" stroke-width="0.1">8</text>
<line x1="157.05" y1="531.60" x2="157.05" y2="534.90" stroke="#141414" stroke-width="1.35" />
<text x="152.51" y="545.00" font-size="8.6" fill="#3c3c3c" textLength="9.09" lengthAdjust="spacingAndGlyphs"  stroke="#3c3c3c" stroke-width="0.1">10</text>
<line x1="174.58" y1="531.60" x2="174.58" y2="534.90" stroke="#141414" stroke-width="1.35" />
<text x="170.04" y="545.00" font-size="8.6" fill="#3c3c3c" textLength="9.09" lengthAdjust="spacingAndGlyphs"  stroke="#3c3c3c" stroke-width="0.1">12</text>
<text x="82.00" y="559.70" font-size="10.0" fill="#383838" textLength="83.60" lengthAdjust="spacingAndGlyphs" stroke="#303030" stroke-width="0.26">Months since treatment</text>
<text transform="translate(43.60,482.60) rotate(-90)" x="-44.30" y="0" font-size="9.6" fill="#383838" textLength="88.60" lengthAdjust="spacingAndGlyphs"  stroke="#383838" stroke-width="0.3">Non-relapse mortality (%)</text>
<line x1="72.20" y1="438.20" x2="87.00" y2="438.20" stroke="#e2a8bb" stroke-width="1.2" />
<line x1="72.20" y1="438.20" x2="87.00" y2="438.20" stroke="#8a2446" stroke-width="1.3" stroke-dasharray="1.2 1.3"/>
<line x1="72.20" y1="448.70" x2="87.00" y2="448.70" stroke="#b4bed4" stroke-width="1.2" />
<line x1="72.20" y1="448.70" x2="87.00" y2="448.70" stroke="#33456e" stroke-width="1.3" stroke-dasharray="1.2 1.3"/>
<text x="91.00" y="440.40" font-size="8.2" fill="#3c3c3c" textLength="60.57" lengthAdjust="spacingAndGlyphs" >High: n = 7 (11%)</text>
<text x="91.00" y="451.50" font-size="8.2" fill="#3c3c3c" textLength="63.77" lengthAdjust="spacingAndGlyphs" >Low: n = 54 (89%)</text>
<polyline points="69.40,531.50 84.50,531.50 84.50,530.80 86.80,528.50 103.50,528.50 104.10,526.50 175.40,526.50" fill="none" stroke="#5a78ae" stroke-width="1.3" stroke-linejoin="miter" />
<polyline points="69.40,531.50 84.50,531.50 84.50,530.80 86.80,528.50 103.50,528.50 104.10,526.50 175.40,526.50" fill="none" stroke="#263862" stroke-width="1.5" stroke-linejoin="miter" stroke-dasharray="1.4 1.0"/>
<line x1="69.40" y1="531.60" x2="84.50" y2="531.60" stroke="#141414" stroke-width="1.35" />
<polyline points="69.40,531.50 150.50,531.50 150.50,513.00 175.40,513.00" fill="none" stroke="#c8244e" stroke-width="1.3" stroke-linejoin="miter" />
<polyline points="69.40,531.50 150.50,531.50 150.50,513.00 175.40,513.00" fill="none" stroke="#861636" stroke-width="1.5" stroke-linejoin="miter" stroke-dasharray="1.4 1.0"/>
<line x1="69.40" y1="531.60" x2="150.50" y2="531.60" stroke="#6a1a32" stroke-width="1.5" />
<text x="143.60" y="505.20" font-size="8.5" fill="#3c3c3c" textLength="34.20" lengthAdjust="spacingAndGlyphs" >p = 0.466</text>
<text x="17.50" y="572.40" font-size="8.2" fill="#2a2a2a" textLength="37.90" lengthAdjust="spacingAndGlyphs"  stroke="#2a2a2a" stroke-width="0.15">No. at risk:</text>
<text x="17.50" y="582.20" font-size="8.2" fill="#923252" textLength="18.57" lengthAdjust="spacingAndGlyphs"  stroke="#923252" stroke-width="0.1">High:</text>
<text x="17.50" y="591.30" font-size="8.2" fill="#47566f" textLength="16.80" lengthAdjust="spacingAndGlyphs"  stroke="#47566f" stroke-width="0.1">Low:</text>
<text x="67.30" y="582.00" font-size="8.6" fill="#3c3c3c" textLength="4.21" lengthAdjust="spacingAndGlyphs"  stroke="#3c3c3c" stroke-width="0.1">7</text>
<text x="65.19" y="591.20" font-size="8.6" fill="#3c3c3c" textLength="8.42" lengthAdjust="spacingAndGlyphs"  stroke="#3c3c3c" stroke-width="0.1">54</text>
<text x="84.83" y="582.00" font-size="8.6" fill="#3c3c3c" textLength="4.21" lengthAdjust="spacingAndGlyphs"  stroke="#3c3c3c" stroke-width="0.1">7</text>
<text x="82.72" y="591.20" font-size="8.6" fill="#3c3c3c" textLength="8.42" lengthAdjust="spacingAndGlyphs"  stroke="#3c3c3c" stroke-width="0.1">53</text>
<text x="102.36" y="582.00" font-size="8.6" fill="#3c3c3c" textLength="4.21" lengthAdjust="spacingAndGlyphs"  stroke="#3c3c3c" stroke-width="0.1">7</text>
<text x="100.25" y="591.20" font-size="8.6" fill="#3c3c3c" textLength="8.42" lengthAdjust="spacingAndGlyphs"  stroke="#3c3c3c" stroke-width="0.1">48</text>
<text x="119.89" y="582.00" font-size="8.6" fill="#3c3c3c" textLength="4.21" lengthAdjust="spacingAndGlyphs"  stroke="#3c3c3c" stroke-width="0.1">5</text>
<text x="117.78" y="591.20" font-size="8.6" fill="#3c3c3c" textLength="8.42" lengthAdjust="spacingAndGlyphs"  stroke="#3c3c3c" stroke-width="0.1">27</text>
<text x="137.42" y="582.00" font-size="8.6" fill="#3c3c3c" textLength="4.21" lengthAdjust="spacingAndGlyphs"  stroke="#3c3c3c" stroke-width="0.1">5</text>
<text x="135.31" y="591.20" font-size="8.6" fill="#3c3c3c" textLength="8.42" lengthAdjust="spacingAndGlyphs"  stroke="#3c3c3c" stroke-width="0.1">23</text>
<text x="154.95" y="582.00" font-size="8.6" fill="#3c3c3c" textLength="4.21" lengthAdjust="spacingAndGlyphs"  stroke="#3c3c3c" stroke-width="0.1">4</text>
<text x="152.84" y="591.20" font-size="8.6" fill="#3c3c3c" textLength="8.42" lengthAdjust="spacingAndGlyphs"  stroke="#3c3c3c" stroke-width="0.1">20</text>
<text x="172.48" y="582.00" font-size="8.6" fill="#3c3c3c" textLength="4.21" lengthAdjust="spacingAndGlyphs"  stroke="#3c3c3c" stroke-width="0.1">1</text>
<text x="172.48" y="591.20" font-size="8.6" fill="#3c3c3c" textLength="4.21" lengthAdjust="spacingAndGlyphs"  stroke="#3c3c3c" stroke-width="0.1">7</text>
<line x1="240.30" y1="434.50" x2="240.30" y2="532.27" stroke="#141414" stroke-width="1.35" />
<line x1="237.10" y1="531.60" x2="240.30" y2="531.60" stroke="#141414" stroke-width="1.35" />
<text x="229.65" y="534.60" font-size="8.6" fill="#3c3c3c" textLength="4.45" lengthAdjust="spacingAndGlyphs"  stroke="#3c3c3c" stroke-width="0.1">0</text>
<line x1="237.10" y1="512.80" x2="240.30" y2="512.80" stroke="#141414" stroke-width="1.35" />
<text x="225.20" y="515.80" font-size="8.6" fill="#3c3c3c" textLength="8.90" lengthAdjust="spacingAndGlyphs"  stroke="#3c3c3c" stroke-width="0.1">20</text>
<line x1="237.10" y1="494.00" x2="240.30" y2="494.00" stroke="#141414" stroke-width="1.35" />
<text x="225.20" y="497.00" font-size="8.6" fill="#3c3c3c" textLength="8.90" lengthAdjust="spacingAndGlyphs"  stroke="#3c3c3c" stroke-width="0.1">40</text>
<line x1="237.10" y1="475.20" x2="240.30" y2="475.20" stroke="#141414" stroke-width="1.35" />
<text x="225.20" y="478.20" font-size="8.6" fill="#3c3c3c" textLength="8.90" lengthAdjust="spacingAndGlyphs"  stroke="#3c3c3c" stroke-width="0.1">60</text>
<line x1="237.10" y1="456.40" x2="240.30" y2="456.40" stroke="#141414" stroke-width="1.35" />
<text x="225.20" y="459.40" font-size="8.6" fill="#3c3c3c" textLength="8.90" lengthAdjust="spacingAndGlyphs"  stroke="#3c3c3c" stroke-width="0.1">80</text>
<line x1="237.10" y1="437.60" x2="240.30" y2="437.60" stroke="#141414" stroke-width="1.35" />
<text x="220.76" y="440.60" font-size="8.6" fill="#3c3c3c" textLength="13.34" lengthAdjust="spacingAndGlyphs"  stroke="#3c3c3c" stroke-width="0.1">100</text>
<line x1="239.62" y1="531.60" x2="349.00" y2="531.60" stroke="#141414" stroke-width="1.35" />
<line x1="240.30" y1="531.60" x2="240.30" y2="534.90" stroke="#141414" stroke-width="1.35" />
<text x="238.03" y="545.00" font-size="8.6" fill="#3c3c3c" textLength="4.54" lengthAdjust="spacingAndGlyphs"  stroke="#3c3c3c" stroke-width="0.1">0</text>
<line x1="257.90" y1="531.60" x2="257.90" y2="534.90" stroke="#141414" stroke-width="1.35" />
<text x="255.63" y="545.00" font-size="8.6" fill="#3c3c3c" textLength="4.54" lengthAdjust="spacingAndGlyphs"  stroke="#3c3c3c" stroke-width="0.1">2</text>
<line x1="275.50" y1="531.60" x2="275.50" y2="534.90" stroke="#141414" stroke-width="1.35" />
<text x="273.23" y="545.00" font-size="8.6" fill="#3c3c3c" textLength="4.54" lengthAdjust="spacingAndGlyphs"  stroke="#3c3c3c" stroke-width="0.1">4</text>
<line x1="293.10" y1="531.60" x2="293.10" y2="534.90" stroke="#141414" stroke-width="1.35" />
<text x="290.83" y="545.00" font-size="8.6" fill="#3c3c3c" textLength="4.54" lengthAdjust="spacingAndGlyphs"  stroke="#3c3c3c" stroke-width="0.1">6</text>
<line x1="310.70" y1="531.60" x2="310.70" y2="534.90" stroke="#141414" stroke-width="1.35" />
<text x="308.43" y="545.00" font-size="8.6" fill="#3c3c3c" textLength="4.54" lengthAdjust="spacingAndGlyphs"  stroke="#3c3c3c" stroke-width="0.1">8</text>
<line x1="328.30" y1="531.60" x2="328.30" y2="534.90" stroke="#141414" stroke-width="1.35" />
<text x="323.76" y="545.00" font-size="8.6" fill="#3c3c3c" textLength="9.09" lengthAdjust="spacingAndGlyphs"  stroke="#3c3c3c" stroke-width="0.1">10</text>
<line x1="345.90" y1="531.60" x2="345.90" y2="534.90" stroke="#141414" stroke-width="1.35" />
<text x="341.36" y="545.00" font-size="8.6" fill="#3c3c3c" textLength="9.09" lengthAdjust="spacingAndGlyphs"  stroke="#3c3c3c" stroke-width="0.1">12</text>
<text x="253.00" y="559.70" font-size="10.0" fill="#383838" textLength="83.70" lengthAdjust="spacingAndGlyphs" stroke="#303030" stroke-width="0.26">Months since treatment</text>
<text transform="translate(214.30,482.70) rotate(-90)" x="-33.35" y="0" font-size="9.8" fill="#383838" textLength="66.70" lengthAdjust="spacingAndGlyphs"  stroke="#383838" stroke-width="0.3">Overall survival (%)</text>
<polyline points="240.30,438.00 255.80,438.00 256.20,439.40 258.50,440.20 258.80,442.10 267.30,442.10 268.00,443.30 275.00,443.30 275.80,444.80 331.20,444.80 332.30,449.00 346.00,449.00" fill="none" stroke="#5a78ae" stroke-width="1.3" stroke-linejoin="miter" />
<polyline points="240.30,438.00 255.80,438.00 256.20,439.40 258.50,440.20 258.80,442.10 267.30,442.10 268.00,443.30 275.00,443.30 275.80,444.80 331.20,444.80 332.30,449.00 346.00,449.00" fill="none" stroke="#263862" stroke-width="1.5" stroke-linejoin="miter" stroke-dasharray="1.4 1.0"/>
<polyline points="240.30,438.00 321.70,438.00 321.70,456.60 346.00,456.60" fill="none" stroke="#c8244e" stroke-width="1.3" stroke-linejoin="miter" />
<polyline points="240.30,438.00 321.70,438.00 321.70,456.60 346.00,456.60" fill="none" stroke="#861636" stroke-width="1.5" stroke-linejoin="miter" stroke-dasharray="1.4 1.0"/>
<text x="314.80" y="471.40" font-size="8.5" fill="#3c3c3c" textLength="33.50" lengthAdjust="spacingAndGlyphs" >p = 0.801</text>
<rect x="425.4" y="523.80" width="24.1" height="7.80" fill="#2e4b7d"/>
<rect x="468.9" y="505.50" width="24.2" height="26.10" fill="#a80029"/>
<line x1="437.50" y1="519.40" x2="437.50" y2="523.80" stroke="#253f6e" stroke-width="1.3" />
<line x1="431.40" y1="519.40" x2="443.70" y2="519.40" stroke="#253f6e" stroke-width="1.3" />
<line x1="481.20" y1="488.70" x2="481.20" y2="505.50" stroke="#8a1535" stroke-width="1.3" />
<line x1="474.90" y1="488.70" x2="487.60" y2="488.70" stroke="#8a1535" stroke-width="1.3" />
<line x1="406.90" y1="434.50" x2="406.90" y2="532.27" stroke="#141414" stroke-width="1.35" />
<line x1="403.70" y1="531.60" x2="406.90" y2="531.60" stroke="#141414" stroke-width="1.35" />
<text x="396.25" y="534.60" font-size="8.6" fill="#3c3c3c" textLength="4.45" lengthAdjust="spacingAndGlyphs"  stroke="#3c3c3c" stroke-width="0.1">0</text>
<line x1="403.70" y1="512.80" x2="406.90" y2="512.80" stroke="#141414" stroke-width="1.35" />
<text x="391.80" y="515.80" font-size="8.6" fill="#3c3c3c" textLength="8.90" lengthAdjust="spacingAndGlyphs"  stroke="#3c3c3c" stroke-width="0.1">20</text>
<line x1="403.70" y1="494.00" x2="406.90" y2="494.00" stroke="#141414" stroke-width="1.35" />
<text x="391.80" y="497.00" font-size="8.6" fill="#3c3c3c" textLength="8.90" lengthAdjust="spacingAndGlyphs"  stroke="#3c3c3c" stroke-width="0.1">40</text>
<line x1="403.70" y1="475.20" x2="406.90" y2="475.20" stroke="#141414" stroke-width="1.35" />
<text x="391.80" y="478.20" font-size="8.6" fill="#3c3c3c" textLength="8.90" lengthAdjust="spacingAndGlyphs"  stroke="#3c3c3c" stroke-width="0.1">60</text>
<line x1="403.70" y1="456.40" x2="406.90" y2="456.40" stroke="#141414" stroke-width="1.35" />
<text x="391.80" y="459.40" font-size="8.6" fill="#3c3c3c" textLength="8.90" lengthAdjust="spacingAndGlyphs"  stroke="#3c3c3c" stroke-width="0.1">80</text>
<line x1="403.70" y1="437.60" x2="406.90" y2="437.60" stroke="#141414" stroke-width="1.35" />
<text x="387.36" y="440.60" font-size="8.6" fill="#3c3c3c" textLength="13.34" lengthAdjust="spacingAndGlyphs"  stroke="#3c3c3c" stroke-width="0.1">100</text>
<line x1="406.22" y1="531.60" x2="513.00" y2="531.60" stroke="#141414" stroke-width="1.35" />
<line x1="437.50" y1="531.60" x2="437.50" y2="534.90" stroke="#141414" stroke-width="1.35" />
<line x1="481.20" y1="531.60" x2="481.20" y2="534.90" stroke="#141414" stroke-width="1.35" />
<text x="430.03" y="545.00" font-size="8.6" fill="#3c3c3c" textLength="15.14" lengthAdjust="spacingAndGlyphs"  stroke="#3c3c3c" stroke-width="0.1">Low</text>
<text x="472.36" y="545.00" font-size="8.6" fill="#3c3c3c" textLength="17.69" lengthAdjust="spacingAndGlyphs"  stroke="#3c3c3c" stroke-width="0.1">High</text>
<text transform="translate(368.70,483.00) rotate(-90)" x="-40.20" y="0" font-size="9.8" fill="#383838" textLength="80.40" lengthAdjust="spacingAndGlyphs"  stroke="#383838" stroke-width="0.3">Treatment resistance at</text>
<text transform="translate(381.00,483.10) rotate(-90)" x="-19.15" y="0" font-size="9.6" fill="#383838" textLength="38.30" lengthAdjust="spacingAndGlyphs"  stroke="#383838" stroke-width="0.3">week 4 (%)</text>
<text x="445.00" y="442.00" font-size="8.5" fill="#3c3c3c" textLength="29.40" lengthAdjust="spacingAndGlyphs" >p = 0.18</text>
</g>
<rect x="0.65" y="0.65" width="518.7" height="598.7" fill="none" stroke="#000" stroke-width="1.3"/>
</svg>
</body></html>
